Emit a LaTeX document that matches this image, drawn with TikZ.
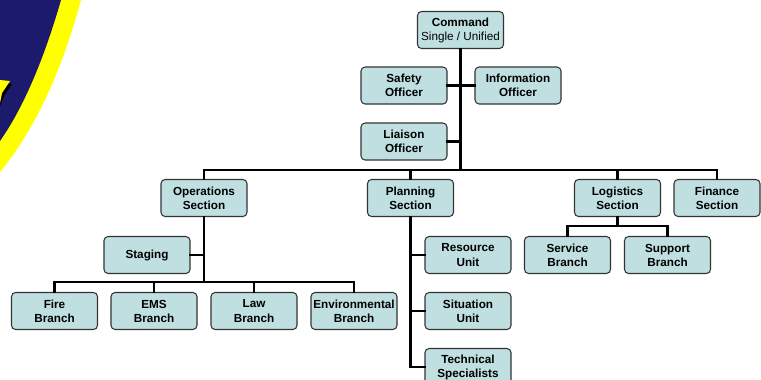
\documentclass[tikz,border=0pt]{standalone}
\usepackage{fontspec}
\setsansfont{Liberation Sans}
\usepackage{tikz}

\definecolor{boxfill}{HTML}{C0DFE0}
\definecolor{boxline}{HTML}{333333}
\definecolor{navy}{HTML}{1B1A6C}
\definecolor{flag}{HTML}{FFFF00}

\tikzset{
	unit/.style={draw=boxline, fill=boxfill, line width=0.9pt, rounded corners=3.5pt,
		minimum width=2.58cm, minimum height=1.11cm, inner sep=0pt, align=center,
		font=\sffamily\bfseries\fontsize{10}{12}\selectfont},
	link/.style={line width=2.1pt, line cap=rect}
}

\begin{document}
\begin{tikzpicture}[x=0.03cm, y=-0.03cm]
				\useasboundingbox (0,0) rectangle (761,379);
				
				% corner emblem
				\fill[flag] (0,0) -- (81,0) .. controls (62,70) and (36,128) .. (0,172) -- cycle;
				\fill[navy] (0,0) -- (61,0) .. controls (46,52) and (26,104) .. (0,141) -- cycle;
				\fill[black] (0,83) -- (12,84) -- (4,96) -- (0,106) -- cycle;
				\fill[flag] (0,80) -- (10,81) -- (2,93) -- (0,103) -- cycle;
				
				% command staff
				\node[unit] (cmd) at (460.5,30) {Command\\\mdseries Single / Unified};
				\node[unit] (safety) at (404,85.5) {Safety\\Officer};
				\node[unit] (info) at (518,85.5) {Information\\Officer};
				\node[unit] (liaison) at (404,141.5) {Liaison\\Officer};
				
				% sections
				\node[unit] (ops) at (204,198) {Operations\\Section};
				\node[unit] (plan) at (410.5,198) {Planning\\Section};
				\node[unit] (log) at (617.5,198) {Logistics\\Section};
				\node[unit] (fin) at (717,198) {Finance\\Section};
				
				% operations
				\node[unit] (staging) at (147,255) {Staging};
				\node[unit] (fire) at (54.5,311) {Fire\\Branch};
				\node[unit] (ems) at (154,311) {EMS\\Branch};
				\node[unit] (law) at (254,311) {Law\\Branch};
				\node[unit] (env) at (354,311) {Environmental\\Branch};
				
				% planning
				\node[unit] (res) at (468,255) {Resource\\Unit};
				\node[unit] (sit) at (468,311) {Situation\\Unit};
				\node[unit] (tech) at (468,367) {Technical\\Specialists};
				
				% logistics
				\node[unit] (serv) at (567.5,255) {Service\\Branch};
				\node[unit] (supp) at (667.5,255) {Support\\Branch};
				
				% lines
				\coordinate (bar) at (cmd.south |- 0,170);
				\coordinate (opsbar) at (ops.south |- 0,282);
				\coordinate (logbar) at (log.south |- 0,226);
				\draw[link] (cmd.south) -- (bar);
				\draw[link] (safety.east) -- (safety.east -| cmd.south);
				\draw[link] (info.west) -- (info.west -| cmd.south);
				\draw[link] (liaison.east) -- (liaison.east -| cmd.south);
				\draw[link] (ops.north) |- (bar) -| (fin.north);
				\draw[link] (plan.north) -- (plan.north |- bar);
				\draw[link] (log.north) -- (log.north |- bar);
				
				\draw[link] (ops.south) -- (opsbar);
				\draw[link] (staging.east) -- (staging.east -| ops.south);
				\draw[link] (fire.north) |- (opsbar) -| (env.north);
				\draw[link] (ems.north) -- (ems.north |- opsbar);
				\draw[link] (law.north) -- (law.north |- opsbar);
				
				\draw[link] (plan.south) |- (tech.west);
				\draw[link] (res.west) -- (res.west -| plan.south);
				\draw[link] (sit.west) -- (sit.west -| plan.south);
				
				\draw[link] (log.south) -- (logbar);
				\draw[link] (serv.north) |- (logbar) -| (supp.north);
				
			\end{tikzpicture}
\end{document}
